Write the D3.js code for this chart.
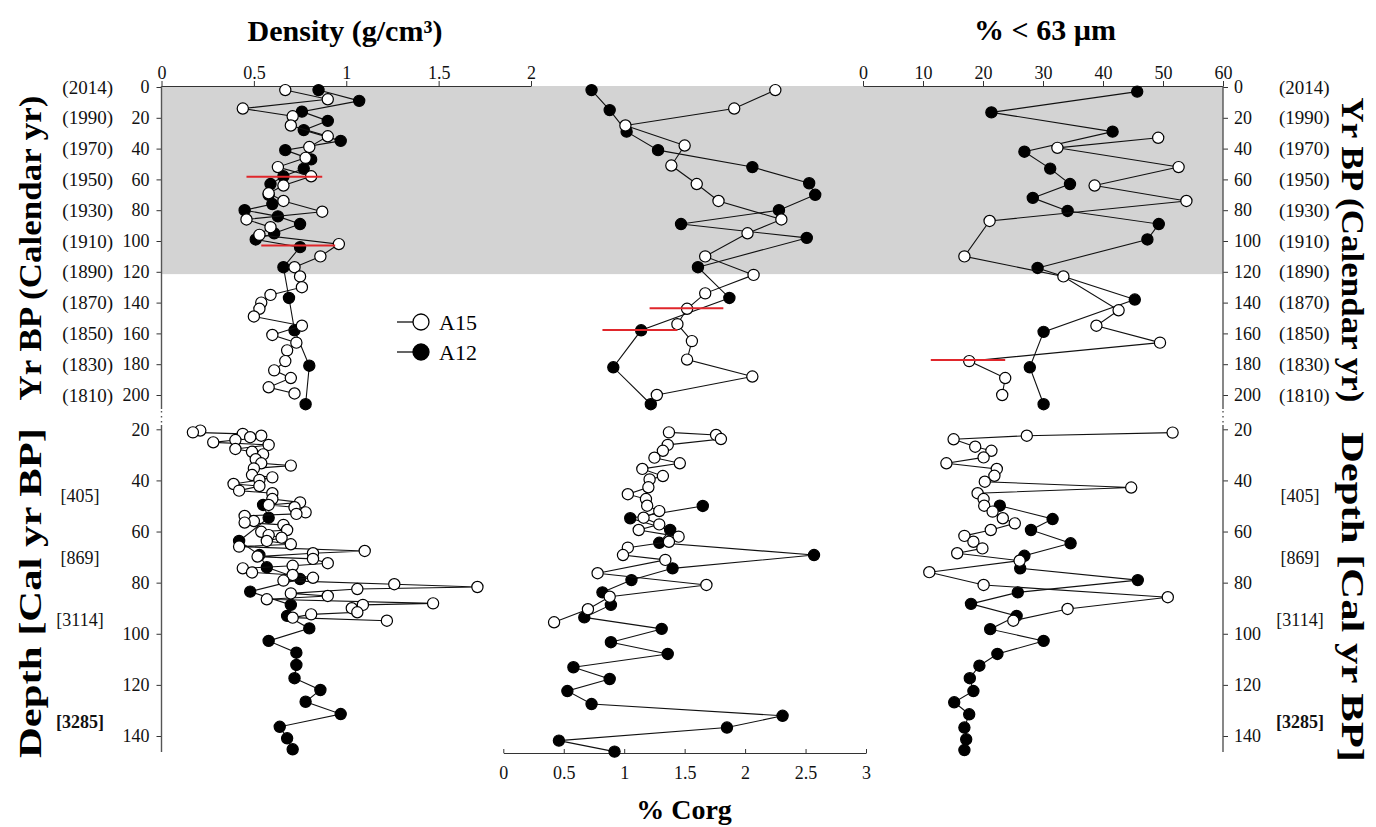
<!DOCTYPE html>
<html>
<head>
<meta charset="utf-8">
<script src="https://cdn.jsdelivr.net/npm/d3@7"></script>
<style>
  body { margin: 0; background: #fff; }
  svg text { font-family: "Liberation Serif", "Times New Roman", serif; }
</style>
</head>
<body>
<div id="chart"></div>
<script>
// tick labels
var yrTicks = [0, 20, 40, 60, 80, 100, 120, 140, 160, 180, 200];
var calYears = ["(2014)", "(1990)", "(1970)", "(1950)", "(1930)", "(1910)", "(1890)", "(1870)", "(1850)", "(1830)", "(1810)"];
var depthTicks = [20, 40, 60, 80, 100, 120, 140];
var calDepths = [46.1, 70.4, 94.6, 134.5];
var calLabels = ["[405]", "[869]", "[3114]", "[3285]"];
var densTicks = [0, 0.5, 1, 1.5, 2];
var corgTicks = [0, 0.5, 1, 1.5, 2, 2.5, 3];
var grainTicks = [0, 10, 20, 30, 40, 50, 60];
var shadedTo = 121.5; // Yr BP

// density, upper part [Yr BP, g/cm3]
var densA15Top = [[2,0.67],[8,0.90],[14,0.44],[19,0.71],[25,0.70],[32,0.90],[39,0.80],[46,0.78],[52,0.63],[58,0.81],[64,0.66],[69,0.58],[74,0.66],[81,0.87],[86,0.46],[91,0.59],[96,0.53],[102,0.96],[110,0.86],[117,0.72],[123,0.75],[130,0.76],[135,0.59],[140,0.54],[144,0.53],[149,0.50],[155,0.76],[161,0.60],[166,0.73],[171,0.68],[178,0.67],[184,0.61],[189,0.70],[195,0.58],[199,0.72]];
var densA12Top = [[2,0.85],[9,1.07],[16,0.76],[22,0.90],[28,0.77],[35,0.97],[41,0.67],[47,0.81],[53,0.77],[58,0.66],[63,0.59],[70,0.58],[76,0.60],[80,0.45],[84,0.63],[89,0.75],[95,0.61],[99,0.51],[104,0.75],[117,0.66],[137,0.69],[158,0.72],[181,0.80],[206,0.78]];
// density, lower part [depth cm, g/cm3]
var densA15Low = [[20.5,0.21],[21.2,0.17],[21.8,0.44],[22.5,0.54],[23.1,0.48],[24.2,0.40],[25.1,0.28],[26.1,0.58],[27.7,0.40],[28.8,0.49],[29.8,0.55],[31.7,0.51],[33.3,0.54],[34.2,0.70],[35.3,0.50],[37.9,0.49],[38.8,0.60],[39.8,0.53],[41.4,0.39],[42.2,0.53],[44.0,0.42],[45.0,0.60],[47.3,0.60],[48.6,0.75],[49.6,0.58],[50.5,0.72],[52.5,0.78],[53.1,0.73],[53.9,0.45],[55.9,0.50],[56.5,0.45],[57.4,0.66],[59.4,0.68],[60.1,0.54],[61.4,0.58],[62.4,0.65],[63.7,0.57],[65.0,0.70],[65.9,0.42],[67.6,1.10],[68.5,0.82],[69.8,0.52],[70.7,0.82],[72.4,0.90],[73.4,0.71],[74.4,0.44],[76.0,0.49],[77.0,0.71],[78.1,0.82],[79.2,0.66],[80.6,1.26],[81.7,1.71],[82.5,1.06],[84.2,0.70],[85.2,0.90],[86.5,0.57],[88.1,1.47],[88.7,1.09],[90.0,1.03],[91.6,1.06],[92.4,0.81],[93.7,0.71],[94.9,1.22]];
var densA12Low = [[49.6,0.55],[54.6,0.58],[63.7,0.42],[69.2,0.53],[74.0,0.57],[78.6,0.75],[83.5,0.48],[88.7,0.70],[93.0,0.68],[97.9,0.80],[102.8,0.58],[107.4,0.73],[112.2,0.73],[117.4,0.72],[122.0,0.86],[126.6,0.78],[131.4,0.97],[136.4,0.64],[140.9,0.68],[145.2,0.71]];

// % Corg
var corgA15Top = [[2,2.25],[14,1.91],[25,1.01],[38,1.50],[51,1.39],[63,1.60],[74,1.78],[86,2.30],[95,2.02],[110,1.67],[122,2.07],[134,1.67],[144,1.52],[154,1.44],[165,1.56],[177,1.52],[188,2.06],[200,1.27]];
var corgA12Top = [[2,0.73],[15,0.88],[29,1.02],[41,1.28],[52,2.06],[62.5,2.53],[70,2.58],[80,2.28],[89,1.47],[98,2.51],[117,1.61],[137,1.87],[158,1.14],[182,0.91],[206,1.22]];
var corgA15Low = [[21.2,1.37],[22.2,1.76],[23.8,1.80],[26.1,1.36],[28.4,1.32],[31.1,1.25],[33.3,1.46],[35.5,1.15],[38.3,1.32],[39.6,1.21],[42.7,1.20],[45.4,1.03],[47.3,1.18],[49.9,1.19],[52.0,1.29],[54.6,1.16],[57.2,1.29],[59.4,1.12],[62.0,1.45],[64.0,1.37],[66.3,1.03],[69.2,0.99],[71.1,1.34],[76.3,0.78],[80.9,1.68],[85.5,0.88],[90.4,0.70],[95.5,0.42]];
var corgA12Low = [[50.0,1.65],[54.8,1.05],[59.4,1.38],[64.4,1.29],[69.2,2.57],[74.4,1.40],[79.0,1.06],[83.8,0.82],[88.7,0.89],[93.6,0.67],[98.1,1.31],[103.3,0.89],[107.9,1.36],[113.1,0.58],[117.7,0.88],[122.4,0.53],[127.5,0.73],[132.1,2.31],[136.7,1.85],[141.8,0.46],[146.1,0.92]];

// % < 63 um
var grainA15Top = [[33,49.2],[39.5,32.4],[52,52.6],[64,38.6],[74,53.9],[87,21.1],[110,16.9],[123,33.4],[145,42.6],[155,38.9],[166,49.5],[178,17.7],[189,23.7],[200,23.2]];
var grainA12Top = [[3,45.7],[16.5,21.4],[29,41.6],[42,26.9],[53,31.2],[63,34.5],[72,28.3],[80.5,34.1],[89,49.3],[99,47.4],[117.5,29.1],[138,45.3],[159,30.1],[182,27.8],[206,30.1]];
var grainA15Low = [[21.3,51.6],[22.5,27.3],[23.9,15.1],[26.8,18.7],[28.4,21.4],[31.0,20.1],[33.3,13.9],[35.5,22.3],[38.2,21.9],[40.5,20.3],[42.8,44.7],[45.0,19.1],[47.3,20.1],[49.9,20.2],[52.2,21.6],[54.8,23.3],[56.8,25.3],[59.4,21.3],[61.7,16.9],[64.0,18.4],[66.6,19.9],[68.5,15.7],[71.4,26.1],[75.9,11.05],[80.9,20.1],[85.7,50.8],[90.3,34.1],[94.9,25.05]];
var grainA12Low = [[49.9,22.8],[55.1,31.6],[59.4,28.0],[64.6,34.6],[69.5,26.9],[74.4,26.2],[79.0,45.8],[83.8,25.8],[88.3,18.0],[93.0,25.6],[98.2,21.2],[102.8,30.1],[107.9,22.4],[112.5,19.4],[117.4,17.8],[122.4,18.4],[126.8,15.2],[131.5,17.7],[136.7,16.9],[141.3,17.2],[145.5,16.9]];

// red bars [Yr BP, from, to]
var densBars = [[58.2,0.46,0.87],[103,0.54,0.94]];
var corgBars = [[143.7,1.21,1.82],[157.8,0.82,1.44]];
var grainBars = [[177.3,11.3,23.7]];

var svgWidth = 1376, svgHeight = 827;
var svg = d3.select("#chart").append("svg")
  .attr("width", svgWidth)
  .attr("height", svgHeight);

var yTop = d3.scaleLinear().domain([0, 200]).range([87, 395]);
var yLow = d3.scaleLinear().domain([20, 140]).range([429.3, 736]);
var xDens = d3.scaleLinear().domain([0, 2]).range([161.5, 531]);
var xCorg = d3.scaleLinear().domain([0, 3]).range([503.3, 866]);
var xGrain = d3.scaleLinear().domain([0, 60]).range([863, 1223]);

var leftX = xDens(0), rightX = xGrain(60);

// shaded period
svg.append("rect")
  .attr("x", leftX)
  .attr("y", yTop(0) - 1)
  .attr("width", rightX - leftX)
  .attr("height", yTop(shadedTo) - yTop(0) + 1)
  .attr("fill", "#d3d3d3");

function styleAxis(g, size) {
  g.selectAll("text").attr("font-family", "Liberation Serif").attr("font-size", size).attr("fill", "#111");
  g.selectAll("line").attr("stroke", "#333");
  g.select(".domain").attr("stroke", "#333");
}

// top axes
svg.append("g")
  .attr("transform", "translate(0,86)")
  .call(d3.axisTop(xDens).tickValues(densTicks).tickFormat(d => String(d)).tickSizeInner(5).tickSizeOuter(0).tickPadding(2))
  .call(g => styleAxis(g, 18));

svg.append("g")
  .attr("transform", "translate(0,86)")
  .call(d3.axisTop(xGrain).tickValues(grainTicks).tickFormat(d => String(d)).tickSizeInner(5).tickSizeOuter(0).tickPadding(2))
  .call(g => styleAxis(g, 18));

// bottom axis (Corg)
svg.append("g")
  .attr("transform", "translate(0,753)")
  .call(d3.axisBottom(xCorg).tickValues(corgTicks).tickFormat(d => String(d)).tickSizeInner(-4).tickSizeOuter(0).tickPadding(13))
  .call(g => styleAxis(g, 18));

// vertical axes
function yAxis(scale, ticks, x, side, from, to) {
  var ax = side === "left" ? d3.axisLeft(scale) : d3.axisRight(scale);
  var g = svg.append("g")
    .attr("transform", `translate(${x},0)`)
    .call(ax.tickValues(ticks).tickSizeInner(5).tickSizeOuter(0).tickPadding(side === "left" ? 7 : 6))
    .call(g => styleAxis(g, 18));
  g.select(".domain").remove();
  g.append("line")
    .attr("x1", 0).attr("x2", 0)
    .attr("y1", from).attr("y2", to)
    .attr("stroke", "#555").attr("stroke-width", 1.4);
  return g;
}
yAxis(yTop, yrTicks, leftX, "left", 86, 409);
yAxis(yLow, depthTicks, leftX, "left", 425, 752);
yAxis(yTop, yrTicks, rightX, "right", 86, 409);
yAxis(yLow, depthTicks, rightX, "right", 425, 752);

// axis break dots
[leftX, rightX].forEach(x => {
  svg.append("line")
    .attr("x1", x).attr("x2", x)
    .attr("y1", 411).attr("y2", 424)
    .attr("stroke", "#555").attr("stroke-width", 1.4)
    .attr("stroke-dasharray", "1.5,3.5");
});

// calendar year labels
var yrLab = svg.append("g").attr("font-size", 19).attr("fill", "#111");
yrTicks.forEach((t, i) => {
  yrLab.append("text").attr("x", 113).attr("y", yTop(t)).attr("dy", "0.35em")
    .attr("text-anchor", "end").text(calYears[i]);
  yrLab.append("text").attr("x", 1279).attr("y", yTop(t)).attr("dy", "0.35em")
    .attr("text-anchor", "start").text(calYears[i]);
});
calDepths.forEach((d, i) => {
  var bold = i === calDepths.length - 1 ? "bold" : "normal";
  [80, 1300].forEach(x => {
    yrLab.append("text").attr("x", x).attr("y", yLow(d)).attr("dy", "0.35em")
      .attr("font-size", 18)
      .attr("text-anchor", "middle").attr("font-weight", bold).text(calLabels[i]);
  });
});

// titles
svg.append("text").attr("x", 345).attr("y", 41).attr("text-anchor", "middle")
  .attr("font-size", 30).attr("font-weight", "bold").text("Density (g/cm³)");
svg.append("text").attr("x", 1045).attr("y", 40).attr("text-anchor", "middle")
  .attr("font-size", 30).attr("font-weight", "bold").text("% < 63 µm");
svg.append("text").attr("x", 684).attr("y", 819).attr("text-anchor", "middle")
  .attr("font-size", 28).attr("font-weight", "bold").text("% Corg");

function vTitle(txt, x, cy, rot, len) {
  svg.append("text")
    .attr("transform", `translate(${x},${cy}) rotate(${rot})`)
    .attr("text-anchor", "middle")
    .attr("dy", "0.35em")
    .attr("font-size", 31).attr("font-weight", "bold")
    .attr("textLength", len).attr("lengthAdjust", "spacingAndGlyphs")
    .text(txt);
}
vTitle("Yr BP (Calendar yr)", 30, 248, -90, 305);
vTitle("Depth [Cal yr BP]", 30, 593, -90, 330);
vTitle("Yr BP (Calendar yr)", 1353, 250, 90, 305);
vTitle("Depth [Cal yr BP]", 1353, 597, 90, 330);

// series
function drawSeries(data, x, y, filled) {
  var line = d3.line().x(d => x(d[1])).y(d => y(d[0]));
  var g = svg.append("g");
  g.append("path")
    .datum(data)
    .attr("d", line)
    .attr("fill", "none")
    .attr("stroke", "#111")
    .attr("stroke-width", 1.1);
  g.selectAll("circle")
    .data(data)
    .enter()
    .append("circle")
    .attr("cx", d => x(d[1]))
    .attr("cy", d => y(d[0]))
    .attr("r", 5.6)
    .attr("fill", filled ? "#000" : "#fff")
    .attr("stroke", "#000")
    .attr("stroke-width", 1.2);
}

drawSeries(densA12Top, xDens, yTop, true);
drawSeries(densA12Low, xDens, yLow, true);
drawSeries(corgA12Top, xCorg, yTop, true);
drawSeries(corgA12Low, xCorg, yLow, true);
drawSeries(grainA12Top, xGrain, yTop, true);
drawSeries(grainA12Low, xGrain, yLow, true);

drawSeries(densA15Top, xDens, yTop, false);
drawSeries(densA15Low, xDens, yLow, false);
drawSeries(corgA15Top, xCorg, yTop, false);
drawSeries(corgA15Low, xCorg, yLow, false);
drawSeries(grainA15Top, xGrain, yTop, false);
drawSeries(grainA15Low, xGrain, yLow, false);

// red bars
function drawBars(bars, x) {
  svg.append("g").selectAll("line")
    .data(bars)
    .enter()
    .append("line")
    .attr("x1", d => x(d[1]))
    .attr("x2", d => x(d[2]))
    .attr("y1", d => yTop(d[0]))
    .attr("y2", d => yTop(d[0]))
    .attr("stroke", "#e0262b")
    .attr("stroke-width", 2);
}
drawBars(densBars, xDens);
drawBars(corgBars, xCorg);
drawBars(grainBars, xGrain);

// legend
var legend = [["A15", false, 322], ["A12", true, 352]];
legend.forEach(l => {
  svg.append("line").attr("x1", 397).attr("x2", 414).attr("y1", l[2]).attr("y2", l[2])
    .attr("stroke", "#111").attr("stroke-width", 1.3);
  svg.append("circle").attr("cx", 421).attr("cy", l[2]).attr("r", 8)
    .attr("fill", l[1] ? "#000" : "#fff").attr("stroke", "#000").attr("stroke-width", 1.3);
  svg.append("text").attr("x", 439).attr("y", l[2]).attr("dy", "0.36em")
    .attr("font-family", "Liberation Sans").attr("font-size", 22).text(l[0]);
});
</script>
</body>
</html>
